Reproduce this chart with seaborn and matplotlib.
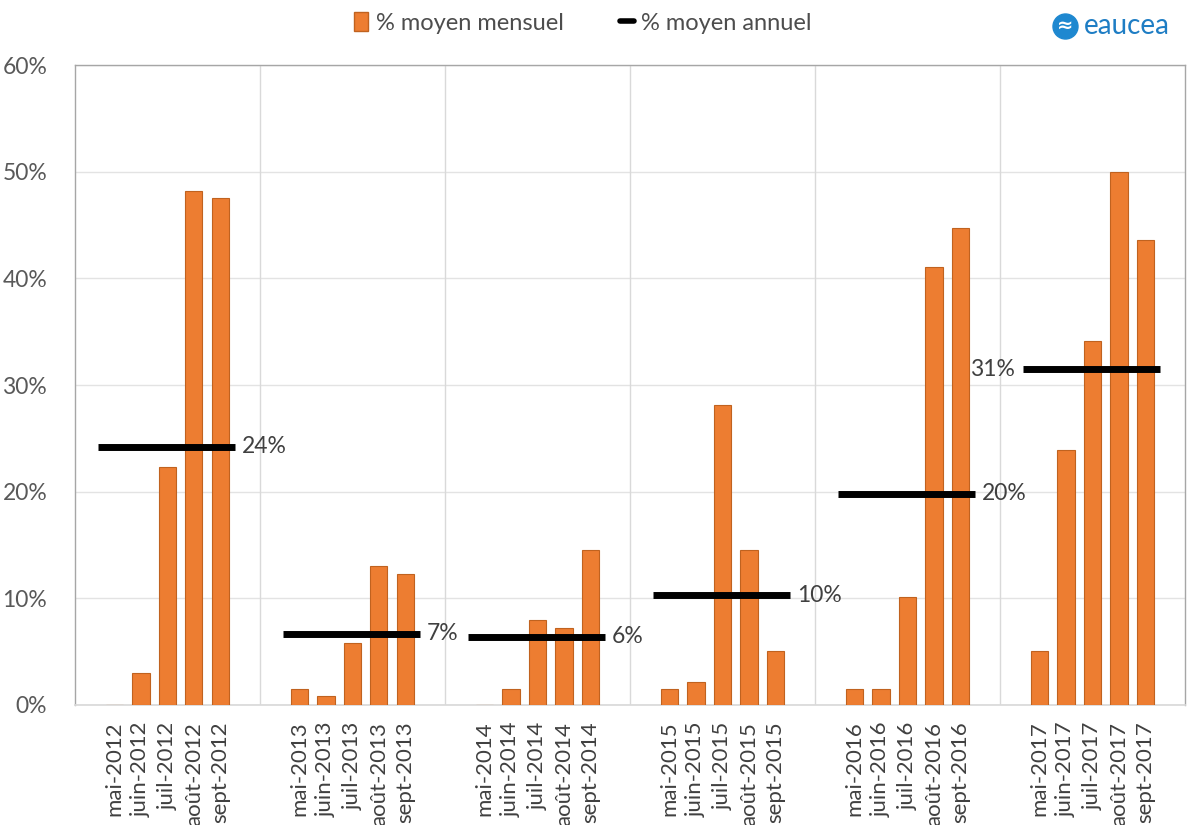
import numpy as np
import pandas as pd
import matplotlib.pyplot as plt
import seaborn as sns
from matplotlib.patches import Patch
from matplotlib.lines import Line2D
from matplotlib.ticker import PercentFormatter

sns.set_theme(style='white')
plt.rcParams['font.family'] = ['Lato', 'DejaVu Sans']

# data
years = [2012, 2013, 2014, 2015, 2016, 2017]
months = ['mai', 'juin', 'juil', 'août', 'sept']
monthly = {
    2012: [0.0, 3.0, 22.3, 48.2, 47.5],
    2013: [1.5, 0.8, 5.8, 13.0, 12.3],
    2014: [0.0, 1.5, 8.0, 7.2, 14.5],
    2015: [1.5, 2.2, 28.1, 14.5, 5.1],
    2016: [1.5, 1.5, 10.1, 41.1, 44.7],
    2017: [5.1, 23.9, 34.1, 50.0, 43.6],
}
annual = [24.2, 6.7, 6.4, 10.3, 19.8, 31.5]
annual_labels = ['24%', '7%', '6%', '10%', '20%', '31%']

orange = '#ED7D31'
edge = '#C0621F'
text_grey = '#404040'

# one slot per month, plus an empty slot before and after each year
slots_per_year = 7
rows = []
for g, y in enumerate(years):
    for m, name in enumerate(months):
        rows.append({'pos': g * slots_per_year + 1 + m,
                     'label': f'{name}-{y}',
                     'value': monthly[y][m] / 100})
df = pd.DataFrame(rows)

fig = plt.figure(figsize=(11.9, 8.25), dpi=100)
ax = fig.add_axes([0.063, 0.1455, 0.9328, 0.7755])

sns.barplot(data=df, x='pos', y='value', native_scale=True, width=0.65,
            color=orange, edgecolor=edge, linewidth=0.8, saturation=1, ax=ax, zorder=3)

# yearly mean lines
for g, (v, lab) in enumerate(zip(annual, annual_labels)):
    x0 = g * slots_per_year + 0.37
    x1 = g * slots_per_year + 5.57
    ax.hlines(v / 100, x0, x1, color='black', lw=5, zorder=4)
    if g == len(years) - 1:
        ax.text(x0 - 0.3, v / 100, lab, ha='right', va='center', fontsize=16.5, color=text_grey)
    else:
        ax.text(x1 + 0.25, v / 100, lab, ha='left', va='center', fontsize=16.5, color=text_grey)

n_slots = slots_per_year * len(years)
ax.set_xlim(-0.5, n_slots - 0.5)
ax.set_ylim(0, 0.6)
ax.set_yticks(np.arange(0, 0.61, 0.1))
ax.yaxis.set_major_formatter(PercentFormatter(1.0, decimals=0))
ax.grid(axis='y', color='#E3E3E3', lw=1, zorder=0)

# group separators as major ticks, month labels as minor ticks
bounds = [g * slots_per_year - 0.5 for g in range(1, len(years))]
for b in bounds:
    ax.axvline(b, color='#D9D9D9', lw=1, zorder=1)
ax.set_xticks(bounds)
ax.set_xticklabels([])
ax.tick_params(axis='x', which='major', length=10, color='#D9D9D9', width=1, direction='out')
ax.set_xticks(df['pos'], minor=True)
ax.set_xticklabels(df['label'], minor=True, rotation=90, fontsize=16, color=text_grey)
ax.tick_params(axis='x', which='minor', length=0, pad=12)
ax.tick_params(axis='y', length=0, labelsize=16.5, labelcolor='#595959', pad=20)
ax.set_xlabel('')
ax.set_ylabel('')

for side in ['left', 'right', 'top']:
    ax.spines[side].set_color('#A6A6A6')
    ax.spines[side].set_linewidth(1)
ax.spines['bottom'].set_color('#D9D9D9')

# legend
handles = [Patch(facecolor=orange, edgecolor=edge, label='% moyen mensuel'),
           Line2D([0], [0], color='black', lw=4, label='% moyen annuel')]
fig.legend(handles=handles, loc='center', bbox_to_anchor=(0.49, 0.972), ncol=2,
           frameon=False, fontsize=17, handlelength=0.6, handleheight=0.8,
           handletextpad=0.3, columnspacing=2.4, labelcolor='#4D4D4D')

# logo
fig.add_artist(Line2D([0.895], [0.969], marker='o', markersize=18, color='#1E88D0',
                      transform=fig.transFigure))
fig.text(0.895, 0.969, '≈', ha='center', va='center', color='white', fontsize=14,
         fontweight='bold', family=['DejaVu Sans'])
fig.text(0.911, 0.969, 'eaucea', ha='left', va='center', color='#1E7DC4', fontsize=20)

fig.savefig('out.png', dpi=100)
